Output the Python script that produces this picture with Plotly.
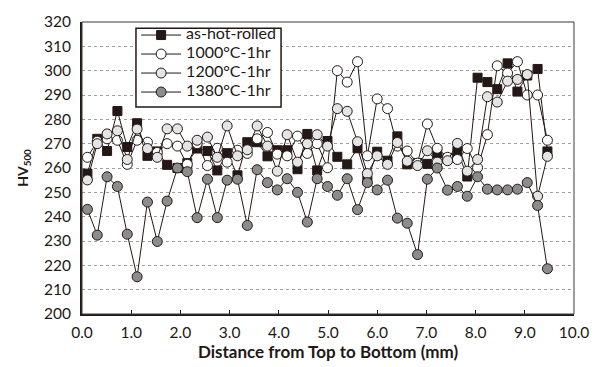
import plotly.graph_objects as go

x_mm = [0.11, 0.31, 0.51, 0.72, 0.92, 1.12, 1.33, 1.53, 1.73, 1.94,
        2.14, 2.34, 2.55, 2.75, 2.95, 3.16, 3.36, 3.56, 3.77, 3.97,
        4.17, 4.38, 4.58, 4.78, 4.99, 5.19, 5.39, 5.60, 5.80, 6.00,
        6.21, 6.41, 6.61, 6.82, 7.02, 7.22, 7.43, 7.63, 7.83, 8.04,
        8.24, 8.44, 8.65, 8.85, 9.05, 9.26, 9.46]

hot_rolled = [257.7, 272.0, 267.0, 283.4, 268.6, 278.4, 265.0, 266.8, 261.3, 260.0,
              262.0, 268.0, 267.0, 259.0, 266.1, 257.0, 270.6, 270.6, 264.8, 267.3,
              267.3, 259.5, 274.0, 259.0, 271.1, 264.6, 261.5, 268.1, 255.0, 266.7,
              263.0, 273.0, 261.5, 262.0, 261.7, 266.0, 264.0, 267.0, 256.5, 297.1,
              295.3, 292.4, 303.0, 291.4, 298.0, 300.7, 266.8]

t1000 = [264.4, 271.0, 272.0, 271.4, 261.5, 271.4, 270.6, 266.4, 270.0, 269.0,
         261.5, 270.0, 261.0, 268.1, 262.4, 267.3, 266.0, 272.0, 274.6, 265.7,
         265.0, 273.1, 266.0, 270.0, 260.1, 300.0, 295.3, 303.7, 265.0, 288.4,
         284.4, 269.0, 267.0, 262.0, 278.1, 268.1, 264.4, 263.5, 268.0, 260.1,
         273.7, 302.0, 299.0, 303.7, 290.0, 290.0, 271.4]

t1200 = [255.1, 270.0, 274.0, 275.3, 263.5, 276.0, 268.0, 264.4, 276.1, 276.1,
         269.0, 271.4, 272.7, 264.4, 277.3, 265.0, 267.5, 277.3, 269.0, 258.7,
         273.7, 262.4, 270.0, 273.7, 269.0, 284.4, 283.3, 270.8, 257.7, 265.0,
         261.5, 270.5, 262.8, 261.0, 267.1, 262.4, 263.0, 270.1, 258.7, 263.5,
         289.3, 287.1, 295.7, 296.4, 298.4, 248.4, 264.8]

t1380 = [243.0, 232.4, 256.4, 252.4, 232.8, 215.3, 246.0, 229.8, 246.4, 260.0,
         258.5, 239.6, 255.4, 239.6, 255.0, 255.4, 236.4, 259.3, 254.0, 251.0,
         255.6, 250.0, 237.8, 255.6, 252.4, 248.8, 255.6, 242.9, 254.0, 251.0,
         255.0, 239.4, 237.3, 224.4, 255.4, 260.0, 250.9, 252.4, 248.4, 256.4,
         251.3, 251.0, 251.0, 251.3, 254.0, 244.6, 218.6]

series_names = ["as-hot-rolled", "1000°C-1hr", "1200°C-1hr", "1380°C-1hr"]
x_ticks = [0, 1, 2, 3, 4, 5, 6, 7, 8, 9, 10]
y_ticks = [200, 210, 220, 230, 240, 250, 260, 270, 280, 290, 300, 310, 320]

styles = [
    dict(symbol="square", size=9, color="#231815", line=dict(color="#231815", width=1)),
    dict(symbol="circle", size=10, color="white", line=dict(color="#231815", width=1)),
    dict(symbol="circle", size=10, color="#e4e4e4", line=dict(color="#231815", width=1)),
    dict(symbol="circle", size=10, color="#8c8c8c", line=dict(color="#231815", width=1)),
]

fig = go.Figure()
for name, ys, st in zip(series_names, [hot_rolled, t1000, t1200, t1380], styles):
    fig.add_trace(go.Scatter(
        x=x_mm, y=ys, name='<span style="font-size:16px">' + name + '</span>',
        mode="lines+markers",
        line=dict(color="#231815", width=1),
        marker=st,
    ))

font_family = "Lato, Open Sans, sans-serif"

fig.update_layout(
    width=601, height=367,
    margin=dict(l=82, r=24, t=14, b=53),
    paper_bgcolor="white", plot_bgcolor="white",
    font=dict(family=font_family, size=15, color="#231815"),
    showlegend=True,
    legend=dict(
        x=0.11, y=1.005, xanchor="left", yanchor="top",
        bgcolor="rgba(0,0,0,0)", borderwidth=0,
        font=dict(size=11, family=font_family, color="#231815"),
        tracegroupgap=0, itemwidth=40,
    ),
    xaxis=dict(
        range=[0, 10], tickvals=x_ticks, tickformat=".1f",
        showgrid=False, zeroline=False,
        showline=True, linecolor="#231815", linewidth=2,
        ticks="inside", ticklen=4, tickcolor="#231815",
        ticklabelstandoff=3,
        tickfont=dict(size=15.5),
        title=dict(text="<b>Distance from Top to Bottom (mm)</b>",
                   font=dict(size=17), standoff=3),
    ),
    yaxis=dict(
        range=[200, 320], tickvals=y_ticks,
        showgrid=True, gridcolor="#a0a0a0", griddash="dot", gridwidth=1,
        zeroline=False,
        showline=True, linecolor="#231815", linewidth=2,
        ticks="", ticklabelstandoff=6,
        tickfont=dict(size=15.5),
        title=dict(text="<b>HV<sub>500</sub></b>", font=dict(size=14), standoff=12),
    ),
)

# plot-area frame
fig.add_shape(type="rect", xref="paper", yref="paper", x0=0, y0=0, x1=1, y1=1,
              line=dict(color="#3a3a3a", width=1), layer="above")
# legend box
fig.add_shape(type="rect", xref="paper", yref="paper",
              x0=0.1097, x1=0.4046, y0=0.7087, y1=0.9787,
              line=dict(color="#231815", width=1.5), fillcolor="white", layer="above")

fig.write_html("out.html")
